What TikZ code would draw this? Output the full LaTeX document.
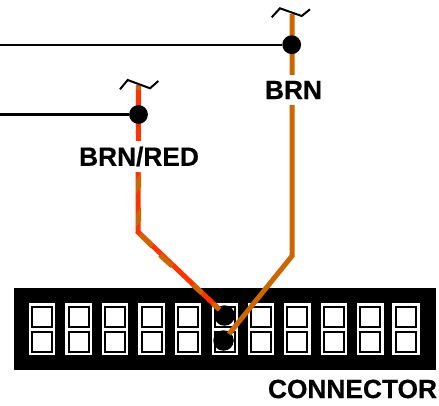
\documentclass[tikz,border=0pt]{standalone}
\usepackage{fontspec}
\setmainfont{Liberation Sans}[BoldFeatures={FakeBold=0.5}]
\definecolor{wirebrn}{RGB}{204,102,0}
\definecolor{wirered}{RGB}{255,51,0}
\tikzset{
  x=1pt,y=-1pt,
  dot/.style={circle,fill=black,draw=none,minimum size=18.8pt,inner sep=0pt,outer sep=0pt},
  pindot/.style={circle,fill=black,draw=none,minimum size=20.5pt,inner sep=0pt,outer sep=0pt},
  cellbox/.style={rectangle,fill=white,draw=none,minimum width=26.5pt,minimum height=52.5pt,inner sep=0pt,outer sep=0pt},
  lastbox/.style={cellbox,minimum width=28pt},
  pinbox/.style={rectangle,draw=black,line width=2pt,fill=white,minimum width=20pt,minimum height=20pt,inner sep=0pt,outer sep=0pt},
  brnwire/.style={draw=wirebrn,line width=5pt},
  redwire/.style={draw=wirered,line width=5pt},
  tracer/.style={fill=wirebrn,draw=none},
  signal/.style={draw=black,line width=2.3pt},
  breakmark/.style={draw=black,line width=2pt},
  lbl/.style={font=\bfseries\fontsize{26.3}{26.3}\selectfont,text=black,inner sep=0pt,outer sep=0pt},
  gaplbl/.style={lbl,fill=white,minimum height=30.5pt},
}
\begin{document}
\begin{tikzpicture}
\useasboundingbox (0,0) rectangle (439,406);
% connector body
\node[fill=black,draw=none,inner sep=0pt,outer sep=0pt,minimum width=422pt,minimum height=82pt] (body) at (225,329) {};
\foreach \i/\cx in {1/42.2,2/78.6,3/115,4/151.5,5/188,6/225,7/261,8/297.4,9/334,10/370.3} {
  \node[cellbox] (cell\i) at (\cx,329) {};
  \node[pinbox] (up\i) at (\cx,317) {};
  \node[pinbox] (lo\i) at (\cx,341.7) {};
}
\node[lastbox] (cell11) at (406.2,329) {};
\node[pinbox] (up11) at (406.2,317) {};
\node[pinbox] (lo11) at (406.2,341.7) {};
% pin dots lie under the wires
\node[pindot] (pinred) at (224.5,315.5) {};
\node[pindot] (pinbrn) at (223.5,340.5) {};
\coordinate (endred) at (219.5,309.5);
\coordinate (endbrn) at (229,334);
\coordinate (topbrn) at (292,14);
\coordinate (bendbrn) at (292,256);
\coordinate (topred) at (138.5,85);
\coordinate (bendred) at (138,232);
\coordinate (leftbrn) at (0,44.7);
\coordinate (leftred) at (0,114.5);
% plain wire
\draw[brnwire] (topbrn) -- (bendbrn) -- (endbrn);
% striped wire: red with brown tracer
\draw[redwire] (topred) -- (bendred) -- (endred);
\draw[brnwire] (topred) -- (138.5,90);
\fill[tracer] (136,180) -- (141,173) -- (141,187) -- (136,194) -- cycle;
\fill[tracer] (136,214) -- (141,207) -- (141,221) -- (136,227) -- cycle;
\draw[brnwire] (140,234) -- (152,246);
\draw[brnwire] (160,255) -- (172,266);
\draw[brnwire] (193,285) -- (202,293);
\draw[brnwire] (213,304) -- (endred);
% signal lines and junctions
\node[dot] (jbrn) at (291.7,44.7) {};
\node[dot] (jred) at (138.5,114.5) {};
\draw[signal] (leftbrn) -- (jbrn);
\draw[signal] (leftred) -- (jred);
% break marks
\draw[breakmark] (271.7,17.3) -- (280,8.3) -- (301.7,16) -- (310,9.3);
\draw[breakmark] (120,89.3) -- (127.7,80) -- (150,88.3) -- (158.3,81);
% labels
\node[gaplbl] (lblbrn) at (293.5,90) {BRN};
\node[gaplbl] (lblred) at (139,156.5) {BRN/RED};
\node[lbl] (lblconn) at (352.5,389) {CONNECTOR};
\end{tikzpicture}
\end{document}
